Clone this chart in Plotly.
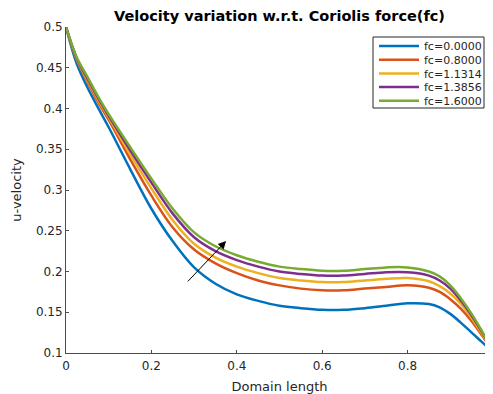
import plotly.graph_objects as go

x_vals = [0.000, 0.025, 0.050, 0.075, 0.100, 0.150, 0.200, 0.250, 0.300, 0.350, 0.400,
          0.450, 0.500, 0.550, 0.600, 0.650, 0.700, 0.750, 0.800, 0.850, 0.875,
          0.900, 0.925, 0.950, 0.975, 1.000]

u_fc_0000 = [0.500, 0.455, 0.426, 0.401, 0.377, 0.326, 0.277, 0.237, 0.205, 0.185, 0.172,
             0.164, 0.158, 0.155, 0.153, 0.153, 0.155, 0.158, 0.161, 0.160, 0.156,
             0.148, 0.137, 0.125, 0.113, 0.101]
u_fc_0800 = [0.500, 0.460, 0.433, 0.408, 0.386, 0.338, 0.293, 0.254, 0.227, 0.210, 0.198,
             0.189, 0.183, 0.179, 0.177, 0.177, 0.179, 0.181, 0.183, 0.180, 0.175,
             0.166, 0.154, 0.139, 0.121, 0.102]
u_fc_1131 = [0.500, 0.461, 0.435, 0.411, 0.389, 0.344, 0.302, 0.263, 0.234, 0.217, 0.206,
             0.198, 0.192, 0.189, 0.187, 0.187, 0.189, 0.191, 0.192, 0.188, 0.182,
             0.173, 0.160, 0.143, 0.123, 0.102]
u_fc_1386 = [0.500, 0.462, 0.437, 0.413, 0.391, 0.349, 0.309, 0.271, 0.242, 0.225, 0.214,
             0.206, 0.200, 0.197, 0.195, 0.195, 0.197, 0.199, 0.199, 0.195, 0.189,
             0.179, 0.164, 0.146, 0.125, 0.102]
u_fc_1600 = [0.500, 0.463, 0.439, 0.415, 0.393, 0.353, 0.314, 0.277, 0.248, 0.231, 0.220,
             0.212, 0.206, 0.203, 0.201, 0.201, 0.203, 0.205, 0.205, 0.200, 0.194,
             0.183, 0.167, 0.148, 0.126, 0.102]

series_names = ["fc=0.0000", "fc=0.8000", "fc=1.1314", "fc=1.3856", "fc=1.6000"]
series_values = [u_fc_0000, u_fc_0800, u_fc_1131, u_fc_1386, u_fc_1600]
colors = ["#0072BD", "#D95319", "#EDB120", "#7E2F8E", "#77AC30"]

x_ticks = [0, 0.2, 0.4, 0.6, 0.8]
x_tick_labels = ["0", "0.2", "0.4", "0.6", "0.8"]
y_ticks = [0.1, 0.15, 0.2, 0.25, 0.3, 0.35, 0.4, 0.45, 0.5]
y_tick_labels = ["0.1", "0.15", "0.2", "0.25", "0.3", "0.35", "0.4", "0.45", "0.5"]

arrow_tail = (0.282, 0.186)
arrow_head = (0.375, 0.2374)

font_family = "DejaVu Sans"
axis_color = "#4d4d4d"
text_color = "#262626"

# layout geometry (page has an 8px body margin)
W, H = 485, 386
ML, MT, MB, MR = 58, 19, 41, 0
PW, PH = W - ML - MR, H - MT - MB
OFF = 8


def px_to_paper_x(sx):
    return (sx - OFF - ML) / PW


def px_to_paper_y(sy):
    return 1 - (sy - OFF - MT) / PH


fig = go.Figure()
legend_ids = ["legend"] + ["legend%d" % (i + 1) for i in range(1, len(series_names))]
for name, vals, c, lid in zip(series_names, series_values, colors, legend_ids):
    fig.add_trace(go.Scatter(x=x_vals, y=vals, mode="lines", name=name, legend=lid,
                             line=dict(color=c, width=2.5, shape="spline", smoothing=1.0)))

fig.add_annotation(x=arrow_head[0], y=arrow_head[1], ax=arrow_tail[0], ay=arrow_tail[1],
                   xref="x", yref="y", axref="x", ayref="y", text="",
                   showarrow=True, arrowhead=2, arrowsize=1.6, arrowwidth=1, arrowcolor="black")

# legend frame
box_left, box_right, box_top, box_bottom = 373, 484, 37, 108
fig.add_shape(type="rect", xref="paper", yref="paper",
              x0=px_to_paper_x(box_left), x1=px_to_paper_x(box_right),
              y0=px_to_paper_y(box_bottom), y1=px_to_paper_y(box_top),
              line=dict(color="#262626", width=1), fillcolor="white", layer="above")

legend_layout = {}
first_center, spacing = 44.5, 13.7
for i, lid in enumerate(legend_ids):
    center = first_center + spacing * i
    legend_layout[lid] = dict(
        x=px_to_paper_x(box_left + 1), y=px_to_paper_y(center - 13),
        xanchor="left", yanchor="top",
        bgcolor="rgba(0,0,0,0)", borderwidth=0, itemwidth=40,
        font=dict(family=font_family, size=11, color=text_color),
        itemclick=False, itemdoubleclick=False)

fig.update_layout(
    width=W, height=H,
    margin=dict(l=ML, r=MR, t=MT, b=MB, autoexpand=False),
    paper_bgcolor="white", plot_bgcolor="white",
    font=dict(family=font_family, size=12, color=text_color),
    title=dict(text="<b>Velocity variation w.r.t. Coriolis force(fc)</b>",
               xref="paper", x=0.5, xanchor="center",
               yref="container", y=1 - 8 / H, yanchor="middle",
               font=dict(family=font_family, size=14.5, color="black")),
    showlegend=True,
    **legend_layout,
)
fig.update_xaxes(range=[0, 1], tickvals=x_ticks, ticktext=x_tick_labels,
                 showgrid=False, zeroline=False, showline=True, linecolor=axis_color,
                 linewidth=1, ticks="inside", ticklen=3, tickcolor=axis_color,
                 ticklabelstandoff=2, tickfont=dict(size=12),
                 title=dict(text="Domain length", standoff=9, font=dict(size=13)))
fig.update_yaxes(range=[0.1, 0.5], tickvals=y_ticks, ticktext=y_tick_labels,
                 showgrid=False, zeroline=False, showline=True, linecolor=axis_color,
                 linewidth=1, ticks="inside", ticklen=3, tickcolor=axis_color,
                 tickfont=dict(size=12),
                 title=dict(text="u-velocity", standoff=11, font=dict(size=13)))

fig.write_html("out.html")
